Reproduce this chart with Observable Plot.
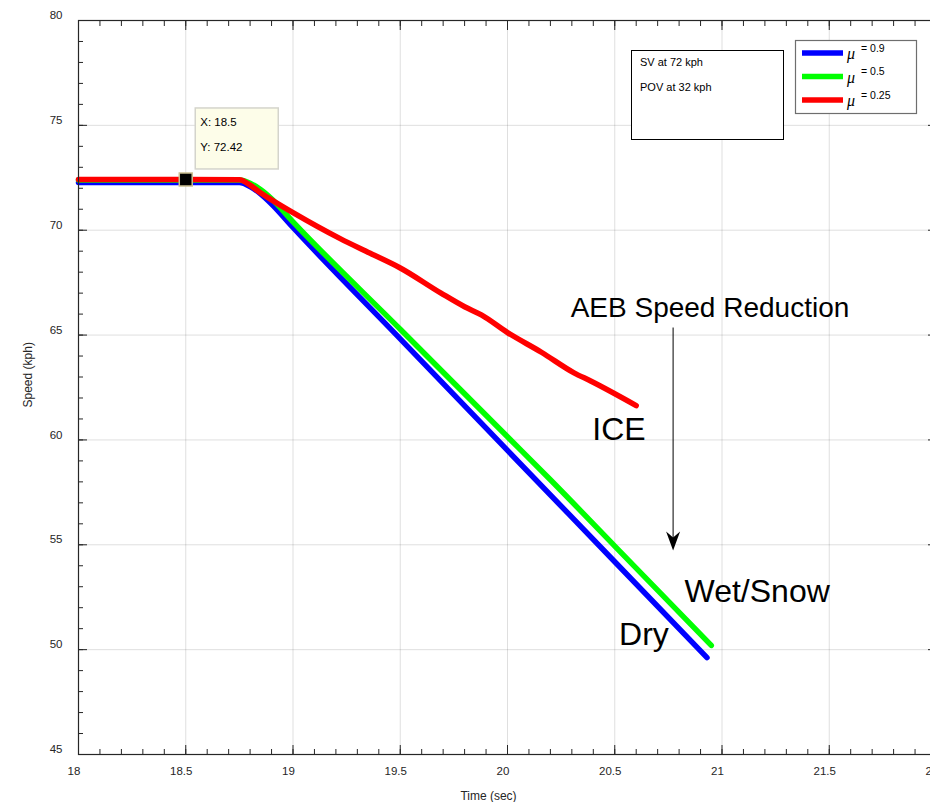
<!DOCTYPE html>
<html><head><meta charset="utf-8">
<script src="https://cdn.jsdelivr.net/npm/d3@7"></script>
<script src="https://cdn.jsdelivr.net/npm/@observablehq/plot@0.6"></script>
<style>
html,body{margin:0;padding:0;background:#fff;overflow:hidden}
#chart{position:relative;width:930px;height:802px;overflow:hidden}
#chart svg{max-width:none !important;width:940px;height:802px;display:block}
</style></head><body><div id="chart"></div>
<script>
// ---- data ----
const muLabels = ["0.9", "0.5", "0.25"];
const surfaceNames = ["Dry", "Wet/Snow", "ICE"];

const dryTime  = [18.0, 18.5, 18.75, 18.8, 18.85, 18.9, 19.0, 19.5, 20.0, 20.5, 20.93];
const drySpeed = [72.28, 72.28, 72.27, 72.08, 71.72, 71.25, 70.13, 64.82, 59.5, 54.19, 49.62];

const wetTime  = [18.0, 18.5, 18.75, 18.8, 18.85, 18.9, 19.0, 19.5, 20.0, 20.2, 20.5, 20.95];
const wetSpeed = [72.4, 72.4, 72.39, 72.24, 71.93, 71.5, 70.4, 65.28, 60.15, 58.1, 54.94, 50.2];

const iceTime  = [18.0, 18.5, 18.75, 18.8, 18.85, 18.9, 19.0, 19.22, 19.36, 19.5, 19.69, 19.8, 19.88, 20.0, 20.16, 20.31, 20.39, 20.6];
const iceSpeed = [72.42, 72.42, 72.41, 72.15, 71.77, 71.45, 70.84, 69.6, 68.9, 68.2, 67.0, 66.35, 65.95, 65.12, 64.17, 63.2, 62.8, 61.64];

const xMajor = [18, 18.5, 19, 19.5, 20, 20.5, 21, 21.5, 22];
const yMajor = [45, 50, 55, 60, 65, 70, 75, 80];
const xMinor = d3.range(180, 221).map(d => d / 10);
const yMinor = d3.range(45, 81);

const tipX = 18.5, tipY = 72.42;
const tipLines = ["X: 18.5", "Y: 72.42"];
const infoLines = ["SV at 72 kph", "POV at 32 kph"];

const titleText = "AEB Speed Reduction";
const titleAt = {x: 20.944, y: 65.84};
const surfaceLabels = [
  {text: "ICE", x: 20.52, y: 60.0},
  {text: "Wet/Snow", x: 21.164, y: 52.29},
  {text: "Dry", x: 20.636, y: 50.2}
];
const arrowLine = {x: 20.772, y1: 65.36, y2: 54.73};

// ---- build table ----
const seriesTimes = [dryTime, wetTime, iceTime];
const seriesSpeeds = [drySpeed, wetSpeed, iceSpeed];
const rows = muLabels.flatMap((mu, i) =>
  seriesTimes[i].map((t, j) => ({mu, time: t, speed: seriesSpeeds[i][j]})));

const lineColors = ["#0000ff", "#00ff00", "#ff0000"];
const FONT = "Liberation Sans, Arial, Helvetica, sans-serif";

// arrowhead symbol (tip at anchor point, pointing down)
const arrowHead = {
  draw(ctx) {
    ctx.moveTo(0, 0);
    ctx.lineTo(-7, -19);
    ctx.lineTo(0, -13);
    ctx.lineTo(7, -19);
    ctx.closePath();
  }
};

function datatip(index, scales) {
  const px = scales.x(tipX), py = scales.y(tipY);
  const g = d3.create("svg:g").attr("text-anchor", "start");
  g.append("rect").attr("x", px + 10).attr("y", py - 71).attr("width", 83).attr("height", 61)
    .attr("fill", "#fdfde9").attr("stroke", "#d4d4cc").attr("stroke-width", 1.5);
  tipLines.forEach((s, i) => {
    g.append("text").attr("x", px + 15).attr("y", py - 53 + i * 25)
      .attr("font-size", 11.5).attr("font-family", FONT).attr("fill", "#000").text(s);
  });
  return g.node();
}

function boxes() {
  const g = d3.create("svg:g").attr("font-family", FONT).attr("text-anchor", "start");
  // info box
  g.append("rect").attr("x", 631.5).attr("y", 50.5).attr("width", 152).attr("height", 89)
    .attr("fill", "#fff").attr("stroke", "#000").attr("stroke-width", 1);
  infoLines.forEach((s, i) => {
    g.append("text").attr("x", 640).attr("y", 66 + i * 25).attr("font-size", 11)
      .attr("fill", "#000").text(s);
  });
  // legend box
  g.append("rect").attr("x", 795.5).attr("y", 40.5).attr("width", 121).attr("height", 73)
    .attr("fill", "#fff").attr("stroke", "#6e6e6e").attr("stroke-width", 1.2);
  muLabels.forEach((mu, i) => {
    const y = 53 + i * 23.5;
    g.append("line").attr("x1", 802).attr("x2", 843).attr("y1", y).attr("y2", y)
      .attr("stroke", lineColors[i]).attr("stroke-width", 5.5);
    g.append("text").attr("x", 847).attr("y", y + 6).attr("font-size", 16)
      .attr("font-family", "Liberation Serif, DejaVu Serif, serif").attr("font-style", "italic")
      .attr("fill", "#000").text("μ");
    g.append("text").attr("x", 861).attr("y", y - 1.5).attr("font-size", 10.5)
      .attr("fill", "#000").text("= " + mu);
  });
  return g.node();
}

const axisColor = "#262626";
const plot = Plot.plot({
  width: 940, height: 802,
  marginLeft: 78, marginRight: 4, marginTop: 20, marginBottom: 48,
  x: {domain: [18, 22]},
  y: {domain: [45, 80]},
  color: {domain: muLabels, range: lineColors},
  style: {fontFamily: FONT, fontSize: "11.5px", color: axisColor, background: "#fff", maxWidth: "none"},
  marks: [
    Plot.gridX(xMajor, {stroke: axisColor, strokeOpacity: 0.15}),
    Plot.gridY(yMajor, {stroke: axisColor, strokeOpacity: 0.15}),
    Plot.line(rows, {x: "time", y: "speed", z: "mu", stroke: "mu", strokeWidth: 5.5, curve: "monotone-x"}),
    // tick labels
    Plot.axisX(xMajor, {anchor: "bottom", tickSize: 0, tickPadding: 12, dx: -4.5, label: null, tickFormat: d => String(d), fontSize: 11.5}),
    Plot.axisY(yMajor, {anchor: "left", tickSize: 0, tickPadding: 16, dy: -5, label: null, tickFormat: d => String(d), fontSize: 11.5}),
    // inward ticks
    Plot.axisX(xMajor, {anchor: "bottom", tickSize: -9, tickFormat: () => "", label: null}),
    Plot.axisX(xMinor, {anchor: "bottom", tickSize: -5, tickFormat: () => "", label: null}),
    Plot.axisX(xMajor, {anchor: "top", tickSize: -9, tickFormat: () => "", label: null}),
    Plot.axisX(xMinor, {anchor: "top", tickSize: -5, tickFormat: () => "", label: null}),
    Plot.axisY(yMajor, {anchor: "left", tickSize: -9, tickFormat: () => "", label: null}),
    Plot.axisY(yMinor, {anchor: "left", tickSize: -5, tickFormat: () => "", label: null}),
    Plot.axisY(yMajor, {anchor: "right", tickSize: -9, tickFormat: () => "", label: null}),
    Plot.axisY(yMinor, {anchor: "right", tickSize: -5, tickFormat: () => "", label: null}),
    Plot.frame({stroke: axisColor, strokeWidth: 1.2}),
    // axis titles
    Plot.text(["Time (sec)"], {frameAnchor: "bottom", dx: -19, dy: 42, fontSize: 12, fill: axisColor, lineAnchor: "middle"}),
    Plot.text(["Speed (kph)"], {frameAnchor: "left", dx: -50, dy: 20, rotate: -90, fontSize: 12, fill: axisColor, lineAnchor: "middle"}),
    // annotations
    Plot.text([titleText], {x: () => titleAt.x, y: () => titleAt.y, text: d => d, fontSize: 28, fill: "#000", lineAnchor: "bottom", textAnchor: "middle"}),
    Plot.text(surfaceLabels, {x: "x", y: "y", text: "text", fontSize: 32, fill: "#000", lineAnchor: "bottom", textAnchor: "middle"}),
    Plot.link([arrowLine], {x1: "x", x2: "x", y1: "y1", y2: d => d.y2 + 0.5, stroke: "#000", strokeWidth: 1}),
    Plot.dot([arrowLine], {x: "x", y: "y2", symbol: arrowHead, fill: "#000", stroke: "none"}),
    // datatip
    datatip,
    Plot.dot([{x: tipX, y: tipY}], {x: "x", y: "y", symbol: "square", r: 7.3, fill: "#000", stroke: "#c9bd8f", strokeWidth: 1.5}),
    boxes
  ]
});
document.getElementById("chart").appendChild(plot);
</script>
</body></html>
